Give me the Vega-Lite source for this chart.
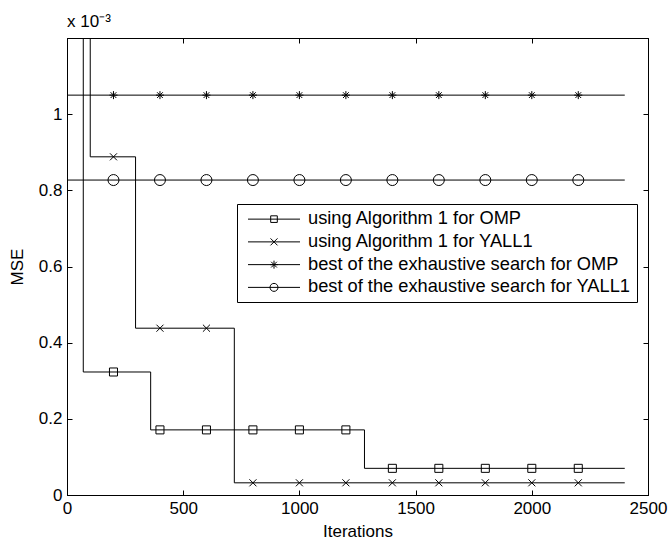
{
  "$schema": "https://vega.github.io/schema/vega-lite/v6.json",
  "width": 581,
  "height": 457,
  "autosize": "none",
  "padding": {"left": 67, "top": 38, "right": 22, "bottom": 45},
  "background": "white",
  "title": {"text": "x 10⁻³", "anchor": "start", "frame": "group", "font": "Liberation Sans", "fontSize": 17, "fontWeight": "normal", "color": "black", "offset": 7},
  "datasets": {
    "curves": [
      {"series": "using Algorithm 1 for OMP", "iter": 0, "mse": 0.0016},
      {"series": "using Algorithm 1 for OMP", "iter": 70, "mse": 0.000323},
      {"series": "using Algorithm 1 for OMP", "iter": 360, "mse": 0.000171},
      {"series": "using Algorithm 1 for OMP", "iter": 1280, "mse": 0.00007},
      {"series": "using Algorithm 1 for OMP", "iter": 2400, "mse": 0.00007},
      {"series": "using Algorithm 1 for YALL1", "iter": 0, "mse": 0.0016},
      {"series": "using Algorithm 1 for YALL1", "iter": 100, "mse": 0.000888},
      {"series": "using Algorithm 1 for YALL1", "iter": 295, "mse": 0.000438},
      {"series": "using Algorithm 1 for YALL1", "iter": 720, "mse": 0.000032},
      {"series": "using Algorithm 1 for YALL1", "iter": 2400, "mse": 0.000032},
      {"series": "best of the exhaustive search for OMP", "iter": 0, "mse": 0.00105},
      {"series": "best of the exhaustive search for OMP", "iter": 2400, "mse": 0.00105},
      {"series": "best of the exhaustive search for YALL1", "iter": 0, "mse": 0.000827},
      {"series": "best of the exhaustive search for YALL1", "iter": 2400, "mse": 0.000827}
    ],
    "markers": [
      {"series": "using Algorithm 1 for OMP", "iter": 200, "mse": 0.000323},
      {"series": "using Algorithm 1 for OMP", "iter": 400, "mse": 0.000171},
      {"series": "using Algorithm 1 for OMP", "iter": 600, "mse": 0.000171},
      {"series": "using Algorithm 1 for OMP", "iter": 800, "mse": 0.000171},
      {"series": "using Algorithm 1 for OMP", "iter": 1000, "mse": 0.000171},
      {"series": "using Algorithm 1 for OMP", "iter": 1200, "mse": 0.000171},
      {"series": "using Algorithm 1 for OMP", "iter": 1400, "mse": 0.00007},
      {"series": "using Algorithm 1 for OMP", "iter": 1600, "mse": 0.00007},
      {"series": "using Algorithm 1 for OMP", "iter": 1800, "mse": 0.00007},
      {"series": "using Algorithm 1 for OMP", "iter": 2000, "mse": 0.00007},
      {"series": "using Algorithm 1 for OMP", "iter": 2200, "mse": 0.00007},
      {"series": "using Algorithm 1 for YALL1", "iter": 200, "mse": 0.000888},
      {"series": "using Algorithm 1 for YALL1", "iter": 400, "mse": 0.000438},
      {"series": "using Algorithm 1 for YALL1", "iter": 600, "mse": 0.000438},
      {"series": "using Algorithm 1 for YALL1", "iter": 800, "mse": 0.000032},
      {"series": "using Algorithm 1 for YALL1", "iter": 1000, "mse": 0.000032},
      {"series": "using Algorithm 1 for YALL1", "iter": 1200, "mse": 0.000032},
      {"series": "using Algorithm 1 for YALL1", "iter": 1400, "mse": 0.000032},
      {"series": "using Algorithm 1 for YALL1", "iter": 1600, "mse": 0.000032},
      {"series": "using Algorithm 1 for YALL1", "iter": 1800, "mse": 0.000032},
      {"series": "using Algorithm 1 for YALL1", "iter": 2000, "mse": 0.000032},
      {"series": "using Algorithm 1 for YALL1", "iter": 2200, "mse": 0.000032},
      {"series": "best of the exhaustive search for OMP", "iter": 200, "mse": 0.00105},
      {"series": "best of the exhaustive search for OMP", "iter": 400, "mse": 0.00105},
      {"series": "best of the exhaustive search for OMP", "iter": 600, "mse": 0.00105},
      {"series": "best of the exhaustive search for OMP", "iter": 800, "mse": 0.00105},
      {"series": "best of the exhaustive search for OMP", "iter": 1000, "mse": 0.00105},
      {"series": "best of the exhaustive search for OMP", "iter": 1200, "mse": 0.00105},
      {"series": "best of the exhaustive search for OMP", "iter": 1400, "mse": 0.00105},
      {"series": "best of the exhaustive search for OMP", "iter": 1600, "mse": 0.00105},
      {"series": "best of the exhaustive search for OMP", "iter": 1800, "mse": 0.00105},
      {"series": "best of the exhaustive search for OMP", "iter": 2000, "mse": 0.00105},
      {"series": "best of the exhaustive search for OMP", "iter": 2200, "mse": 0.00105},
      {"series": "best of the exhaustive search for YALL1", "iter": 200, "mse": 0.000827},
      {"series": "best of the exhaustive search for YALL1", "iter": 400, "mse": 0.000827},
      {"series": "best of the exhaustive search for YALL1", "iter": 600, "mse": 0.000827},
      {"series": "best of the exhaustive search for YALL1", "iter": 800, "mse": 0.000827},
      {"series": "best of the exhaustive search for YALL1", "iter": 1000, "mse": 0.000827},
      {"series": "best of the exhaustive search for YALL1", "iter": 1200, "mse": 0.000827},
      {"series": "best of the exhaustive search for YALL1", "iter": 1400, "mse": 0.000827},
      {"series": "best of the exhaustive search for YALL1", "iter": 1600, "mse": 0.000827},
      {"series": "best of the exhaustive search for YALL1", "iter": 1800, "mse": 0.000827},
      {"series": "best of the exhaustive search for YALL1", "iter": 2000, "mse": 0.000827},
      {"series": "best of the exhaustive search for YALL1", "iter": 2200, "mse": 0.000827}
    ]
  },
  "layer": [
    {
      "data": {"name": "curves"},
      "mark": {"type": "line", "interpolate": "step-after", "clip": true, "stroke": "black", "strokeWidth": 1},
      "encoding": {
        "x": {"field": "iter", "type": "quantitative", "scale": {"domain": [0, 2500], "nice": false},
              "axis": {"orient": "bottom", "title": "Iterations", "values": [0, 500, 1000, 1500, 2000, 2500], "format": "d", "titlePadding": 7}},
        "y": {"field": "mse", "type": "quantitative", "scale": {"domain": [0, 0.0012], "nice": false, "zero": false},
              "axis": {"orient": "left", "title": "MSE", "values": [0, 0.0002, 0.0004, 0.0006, 0.0008, 0.001], "labelExpr": "format(datum.value*1000, '.1~f')", "titlePadding": 12}},
        "detail": {"field": "series"}
      }
    },
    {
      "data": {"name": "markers"},
      "mark": {"type": "point", "filled": false, "size": 121, "stroke": "black", "strokeWidth": 1, "opacity": 1, "clip": true},
      "encoding": {
        "x": {"field": "iter", "type": "quantitative",
              "axis": {"orient": "top", "title": null, "labels": false, "values": [0, 500, 1000, 1500, 2000, 2500]}},
        "y": {"field": "mse", "type": "quantitative",
              "axis": {"orient": "right", "title": null, "labels": false, "values": [0, 0.0002, 0.0004, 0.0006, 0.0008, 0.001]}},
        "shape": {
          "field": "series", "type": "nominal", "legend": null,
          "scale": {
            "domain": ["using Algorithm 1 for OMP", "using Algorithm 1 for YALL1", "best of the exhaustive search for OMP", "best of the exhaustive search for YALL1"],
            "range": [
              "M-0.73,-0.73H0.73V0.73H-0.73Z",
              "M-0.64,-0.64L0.64,0.64M-0.64,0.64L0.64,-0.64",
              "M0,-0.73V0.73M-0.73,0H0.73M-0.52,-0.52L0.52,0.52M-0.52,0.52L0.52,-0.52",
              "M1,0A1,1,0,1,1,-1,0A1,1,0,1,1,1,0Z"
            ]
          }
        }
      }
    },
    {
      "data": {"name": "markers"},
      "mark": {"type": "point", "filled": false, "size": 100, "stroke": "black", "strokeWidth": 1, "opacity": 0},
      "encoding": {
        "x": {"field": "iter", "type": "quantitative", "axis": null},
        "y": {"field": "mse", "type": "quantitative", "axis": null},
        "shape": {
          "field": "series", "type": "nominal",
          "scale": {
            "domain": ["using Algorithm 1 for OMP", "using Algorithm 1 for YALL1", "best of the exhaustive search for OMP", "best of the exhaustive search for YALL1"],
            "range": [
              "M-5.2,0H5.2M-0.66,-0.66H0.66V0.66H-0.66Z",
              "M-5.2,0H5.2M-0.7,-0.7L0.7,0.7M-0.7,0.7L0.7,-0.7",
              "M-5.2,0H5.2M0,-0.8V0.8M-0.8,0H0.8M-0.57,-0.57L0.57,0.57M-0.57,0.57L0.57,-0.57",
              "M-5.2,0H5.2M0.8,0A0.8,0.8,0,1,1,-0.8,0A0.8,0.8,0,1,1,0.8,0Z"
            ]
          },
          "legend": {
            "orient": "none", "legendX": 170, "legendY": 166, "title": null,
            "symbolSize": 100, "symbolStrokeWidth": 1, "symbolStrokeColor": "black", "symbolFillColor": "transparent", "symbolOpacity": 1,
            "labelFont": "Liberation Sans", "labelFontSize": 18.25, "labelColor": "black", "labelLimit": 0,
            "strokeColor": "black", "fillColor": "white", "padding": 6, "rowPadding": 3.75, "cornerRadius": 0,
            "symbolOffset": 21.875, "labelOffset": 24.875
          }
        }
      }
    }
  ],
  "resolve": {"axis": {"x": "independent", "y": "independent"}, "scale": {"shape": "independent"}},
  "config": {
    "view": {"stroke": "black", "strokeWidth": 1},
    "axis": {
      "grid": false, "domain": true, "domainColor": "black", "domainWidth": 1,
      "ticks": true, "tickColor": "black", "tickWidth": 1, "tickSize": -5,
      "labelPadding": 10, "labelFont": "Liberation Sans", "labelFontSize": 17, "labelColor": "black",
      "labelFlush": false, "labelOverlap": false,
      "titleFont": "Liberation Sans", "titleFontSize": 17, "titleFontWeight": "normal", "titleColor": "black"
    }
  }
}
